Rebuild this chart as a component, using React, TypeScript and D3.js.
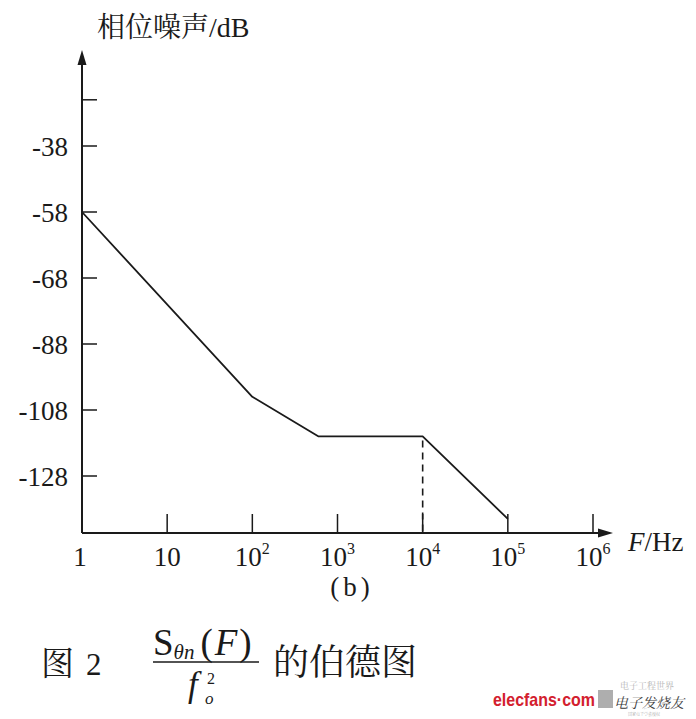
import React from 'react';
import * as d3 from 'd3';

// x axis: decades of frequency
const xTickValues = [10, 1e2, 1e3, 1e4, 1e5, 1e6];
const xTickLabels = ['1', '10', '10', '10', '10', '10', '10'];
const xTickExps = ['', '', '2', '3', '4', '5', '6'];

// y axis: the labels as printed (spacing is even per label, not per dB)
const yTickValues = [-128, -108, -88, -68, -58, -38];
const yTickLabels = ['-128', '-108', '-88', '-68', '-58', '-38'];
const yBlankTick = -24;

// bode asymptotes
const freqs = [1, 100, 600, 1e4, 1e5];
const noiseDb = [-58, -104, -116, -116, -141];
const cornerFreq = 1e4;

const W = 696;
const H = 719;
const serif = '"Liberation Serif", "DejaVu Serif", serif';
const cjk = '"Noto Serif CJK SC", "Noto Sans CJK SC", sans-serif';

const App: React.FC = () => {
    const x = d3.scaleLog().domain([1, 1e6]).range([82, 593]);
    // label -> index (piecewise), index -> pixel
    const yIdx = d3.scaleLinear().domain(yTickValues).range(d3.range(yTickValues.length));
    const yPix = d3.scaleLinear().domain([0, yTickValues.length - 1]).range([476, 146]);
    const y = (v: number) => yPix(yIdx(v));

    const x0 = x(1);
    const xEnd = x.range()[1] + 20;
    const yBase = 533;
    const yTop = 50;

    const line = d3.line<number>()
        .x((_, i) => x(freqs[i]))
        .y(d => y(d));

    const ink = '#1a1a1a';

    return (
        <svg width={W} height={H} style={{position: 'absolute', left: 0, top: 0, background: '#fff'}}>
            {/* y axis title */}
            <text x={97} y={37} fontFamily={cjk} fontSize={28} fill={ink}>
                相位噪声<tspan fontFamily={serif}>/dB</tspan>
            </text>

            {/* axes */}
            <line x1={x0} x2={x0} y1={yBase} y2={yTop + 12} stroke={ink} strokeWidth={2}/>
            <path d={`M${x0},${yTop} L${x0 - 4.5},${yTop + 15} L${x0 + 4.5},${yTop + 15} Z`} fill={ink}/>
            <line x1={x0} x2={xEnd - 12} y1={yBase} y2={yBase} stroke={ink} strokeWidth={2}/>
            <path d={`M${xEnd},${yBase} L${xEnd - 15},${yBase - 4.5} L${xEnd - 15},${yBase + 4.5} Z`} fill={ink}/>

            {/* y ticks */}
            {[...yTickValues, yBlankTick].map((v, i) => (
                <line key={'yt' + i} x1={x0} x2={x0 + 15} y1={y(v)} y2={y(v)} stroke={ink} strokeWidth={1.5}/>
            ))}
            {yTickValues.map((v, i) => (
                <text key={'yl' + i} x={68} y={y(v) + 10} textAnchor="end" fontFamily={serif}
                      fontSize={27} fill={ink}>{yTickLabels[i]}</text>
            ))}

            {/* x ticks */}
            {xTickValues.map((v, i) => (
                <line key={'xt' + i} x1={x(v)} x2={x(v)} y1={yBase} y2={yBase - 19} stroke={ink} strokeWidth={1.5}/>
            ))}
            {[1, ...xTickValues].map((v, i) => (
                <text key={'xl' + i} x={x(v) + (i === 0 ? -2 : 0)} y={566} textAnchor="middle"
                      fontFamily={serif} fontSize={27} fill={ink}>
                    {xTickLabels[i]}
                    {xTickExps[i] && <tspan fontSize={16} dy={-12}>{xTickExps[i]}</tspan>}
                </text>
            ))}
            <text x={628} y={551} fontFamily={serif} fontSize={27} fill={ink}>
                <tspan fontStyle="italic">F</tspan>/Hz
            </text>
            <text x={352} y={596} textAnchor="middle" fontFamily={serif} fontSize={27}
                  letterSpacing={4} fill={ink}>(b)</text>

            {/* curve */}
            <path d={line(noiseDb)!} fill="none" stroke={ink} strokeWidth={1.8} strokeLinejoin="round"/>
            <line x1={x(cornerFreq)} x2={x(cornerFreq)} y1={y(noiseDb[3]) + 4} y2={yBase}
                  stroke={ink} strokeWidth={1.6} strokeDasharray="7 5"/>

            {/* caption */}
            <text x={41} y={675} fontFamily={cjk} fontSize={33} fill={ink}>图</text>
            <text x={86} y={675} fontFamily={serif} fontSize={31} fill={ink}>2</text>
            <text x={153} y={655} fontFamily={serif} fontSize={37} fill={ink}>
                S<tspan fontSize={21} fontStyle="italic" dy={4}>θn</tspan>
                <tspan dy={-4} dx={6}>(</tspan>
                <tspan fontStyle="italic" dx={2}>F</tspan>
                <tspan dx={2}>)</tspan>
            </text>
            <line x1={153} x2={259} y1={662} y2={662} stroke={ink} strokeWidth={1.6}/>
            <text x={188} y={696} fontFamily={serif} fontSize={35} fontStyle="italic" fill={ink}>f</text>
            <text x={205} y={704} fontFamily={serif} fontSize={17} fontStyle="italic" fill={ink}>o</text>
            <text x={207} y={684} fontFamily={serif} fontSize={16} fill={ink}>2</text>
            <text x={273} y={675} fontFamily={cjk} fontSize={36} fill={ink}>的伯德图</text>

            {/* watermark */}
            <text x={493} y={706} fontFamily='"Liberation Sans", Arial, sans-serif' fontWeight="bold"
                  fontSize={19} textLength={102} lengthAdjust="spacingAndGlyphs" fill="#d3202e">elecfans·com</text>
            <rect x={598} y={690} width={15} height={18} fill="#9a9a9a" opacity={0.8}/>
            <text x={620} y={689} fontFamily={cjk} fontSize={9} fill="#b5b5b5">电子工程世界</text>
            <text x={614} y={708} fontFamily={cjk} fontSize={14} fontStyle="italic" fill="#3a3a3a">电子发烧友</text>
            <text x={628} y={716} fontFamily={cjk} fontSize={4} fill="#aaa">国家电子学会授权</text>
        </svg>
    );
};

export default App;
